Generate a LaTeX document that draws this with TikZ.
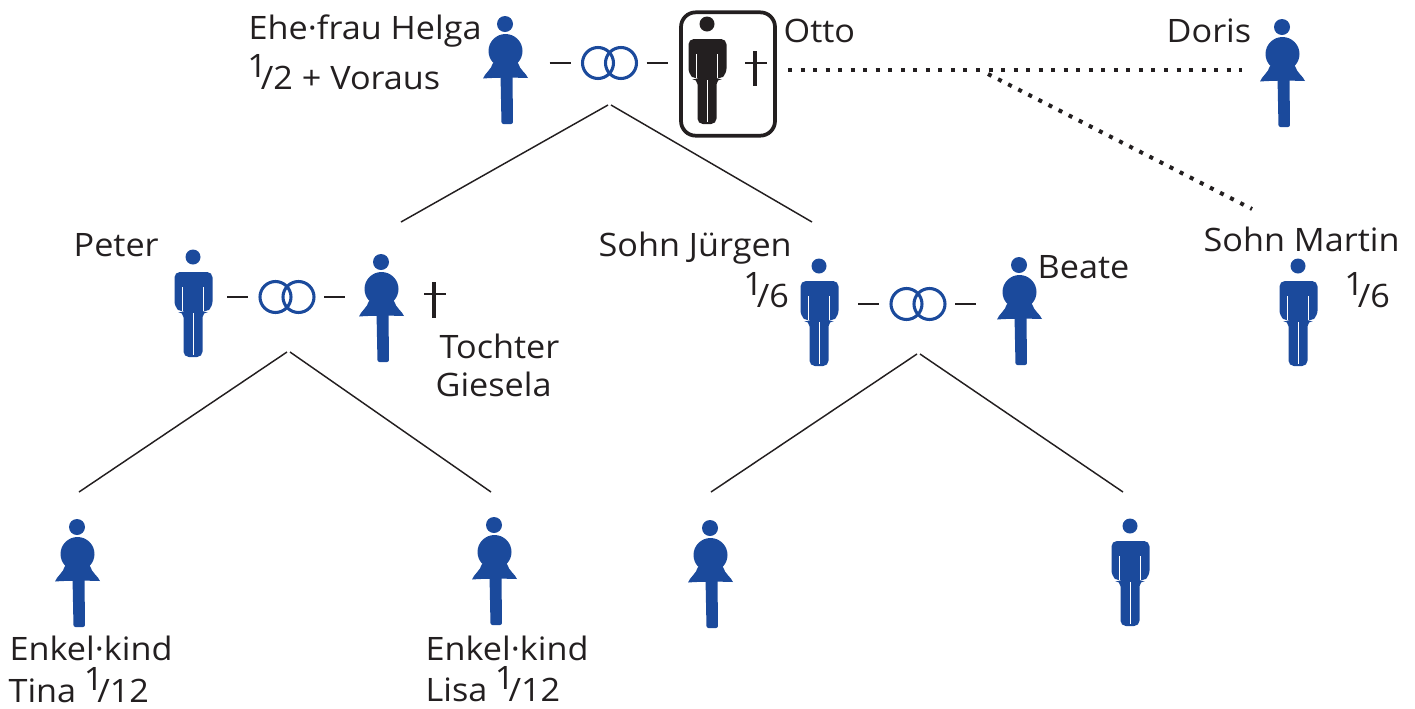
\documentclass[tikz,border=0pt]{standalone}
\usepackage{fontspec}
\setmainfont[FakeStretch=1.06]{Open Sans}
\definecolor{fblue}{HTML}{1B4A9C}
\definecolor{fblack}{HTML}{231F20}
\newcommand{\frc}[2]{\kern-1pt\raisebox{9pt}{#1}\kern-4.5pt/#2}
\tikzset{
 x=0.75pt,y=-0.75pt,
 lbl/.style={anchor=base west,inner sep=0pt,xshift=-1.2pt,yshift=-0.75pt,font=\fontsize{24.2}{29}\selectfont,text=fblack},
 ring/.style={draw=fblue,line width=2.3pt},
 tie/.style={draw=fblack,line width=1.3pt},
 kin/.style={draw=fblack,line width=1.1pt},
 hdots/.style={draw=fblack,line width=3pt,dash pattern=on 3pt off 6.4pt},
 ddots/.style={draw=fblack,line width=3pt,dash pattern=on 3pt off 5.5pt},
 obitv/.style={draw=fblack,line width=2.8pt},
 obith/.style={draw=fblack,line width=2pt},
 pics/woman/.style={code={
  \fill[fblue] (0,0) circle[radius=8];
  \fill[fblue] (0.5,27) circle[radius=17];
  \fill[fblue] (-12,39) .. controls (-14,46) and (-20,49) .. (-22,54.5)
     .. controls (-10,53.5) and (10,53.5) .. (23,54)
     .. controls (21,49) and (15,46) .. (13,39) -- cycle;
  \fill[fblue,rounded corners=1.5pt] (-4.5,50) -- (7.5,50) -- (8,100) -- (-3.5,100) -- cycle;
 }},
 pics/man/.style={code={
  \fill[#1] (0,0) circle[radius=7.5];
  \fill[#1,rounded corners=4pt] (-18.5,15) -- (19.5,15) -- (19.5,50) -- (13,55) -- (9.5,55)
     -- (9.5,100) -- (-9.5,100) -- (-9.5,55) -- (-12,55) -- (-18.5,50) -- cycle;
  \draw[white,line width=0.9pt] (-10.5,30) -- (-10.5,54) (10.5,30) -- (10.5,54) (0.3,56) -- (0.3,98);
 }},
}
\begin{document}
\begin{tikzpicture}
\useasboundingbox (0,0) rectangle (1415,708);
% figures
\pic at (505,24) {woman};
\pic at (707,24) {man=fblack};
\pic at (1282,27) {woman};
\pic at (193,257) {man=fblue};
\pic at (381,262) {woman};
\pic at (819,266) {man=fblue};
\pic at (1019,265) {woman};
\pic at (1298,266) {man=fblue};
\pic at (77,527) {woman};
\pic at (494,525) {woman};
\pic at (710,528) {woman};
\pic at (1130,526) {man=fblue};
% box of the deceased
\node[draw=fblack,line width=2.8pt,rounded corners=11pt,minimum width=70.5pt,minimum height=92.5pt,inner sep=0pt] (ottobox) at (728,74) {};
% rings
\foreach \n/\cx/\cy in {a/609.5/63,b/287/297,c/918/304}{
 \coordinate (\n) at (\cx,\cy);
 \draw[ring] (\n) ++(-11.5,0) circle[radius=15.5];
 \draw[ring] (\n) ++(11.5,0) circle[radius=15.5];
 \draw[tie] (\n) ++(-60,0) coordinate (\n l1) -- ++(21,0);
 \draw[tie] (\n) ++(37,0) coordinate (\n r1) -- ++(21,0);
}
% crosses
\draw[obitv] (755,51) -- (755,86);
\draw[obith] (745,63) -- (767,63);
\draw[obitv] (434,282) -- (434,318);
\draw[obith] (424,294) -- (446,294);
% descent lines
\coordinate (a1) at (608,105); \coordinate (a2) at (611,105);
\coordinate (jl) at (401,222); \coordinate (jr) at (812,222);
\coordinate (b1) at (287,352); \coordinate (b2) at (290,352);
\coordinate (tl) at (79,492); \coordinate (tr) at (491,492);
\coordinate (c1) at (917,354); \coordinate (c2) at (920,354);
\coordinate (ul) at (711,492); \coordinate (ur) at (1123,492);
\draw[kin] (a1) -- (jl); \draw[kin] (a2) -- (jr);
\draw[kin] (b1) -- (tl); \draw[kin] (b2) -- (tr);
\draw[kin] (c1) -- (ul); \draw[kin] (c2) -- (ur);
% dotted lines
\coordinate (d0) at (788,69.5); \coordinate (d1) at (988,74);
\coordinate (d2) at (1242,69.5); \coordinate (d3) at (1252,209);
\draw[hdots] (d0) -- (d2);
\draw[ddots] (d1) -- (d3);
% labels
\node[lbl] (t1) at (250,38) {Ehe·frau Helga};
\node[lbl] (t2) at (250,88) {\frc{1}{2} + Voraus};
\node[lbl] (t3) at (785,41) {Otto};
\node[lbl] (t4) at (1168,41) {Doris};
\node[lbl] (t5) at (75,255) {Peter};
\node[lbl] (t6) at (600,255) {Sohn Jürgen};
\node[lbl] (t7) at (746,306) {\frc{1}{6}};
\node[lbl] (t8) at (1039,277) {Beate};
\node[lbl] (t9) at (1205,250) {Sohn Martin};
\node[lbl] (t10) at (1347,306) {\frc{1}{6}};
\node[lbl] (t11) at (441,357) {Tochter};
\node[lbl] (t12) at (437,395) {Giesela};
\node[lbl] (t13) at (11,659) {Enkel·kind};
\node[lbl] (t14) at (10,701) {Tina \frc{1}{12}};
\node[lbl] (t15) at (427,659) {Enkel·kind};
\node[lbl] (t16) at (427,700) {Lisa \frc{1}{12}};
\end{tikzpicture}
\end{document}
